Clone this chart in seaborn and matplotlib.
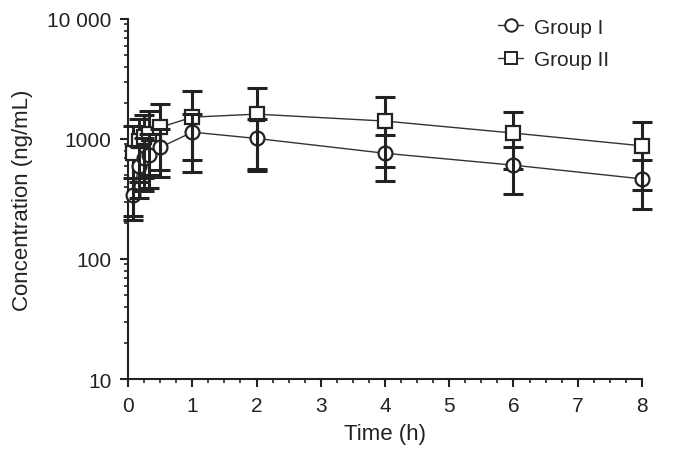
import numpy as np
import pandas as pd
import matplotlib
matplotlib.use("Agg")
import matplotlib.pyplot as plt
import matplotlib.ticker as mticker
import seaborn as sns

# Datos
tiempo = [0.083, 0.167, 0.25, 0.333, 0.5, 1, 2, 4, 6, 8]
grupo1_media = [340, 600, 690, 740, 850, 1140, 1010, 760, 605, 465]
grupo1_sd = [130, 280, 320, 350, 370, 475, 470, 315, 255, 205]
grupo2_media = [760, 960, 1030, 1100, 1250, 1520, 1610, 1410, 1120, 877]
grupo2_sd = [530, 520, 560, 600, 700, 990, 1045, 825, 555, 500]
etiquetas_y = ["10", "100", "1000", "10 000"]

df = pd.DataFrame({
    "Time": tiempo * 2,
    "Conc": grupo1_media + grupo2_media,
    "Group": ["Group I"] * len(tiempo) + ["Group II"] * len(tiempo),
})

sns.set_style("ticks")
plt.rcParams["font.family"] = ["Liberation Sans", "DejaVu Sans"]

fig = plt.figure(figsize=(7, 4.64), dpi=100)
ax = fig.add_axes([0.183, 0.181, 0.734, 0.776])

# Lineas
sns.lineplot(data=df, x="Time", y="Conc", hue="Group", palette=["#333333", "#333333"],
             linewidth=1.0, legend=False, ax=ax, zorder=2)

# Barras de error (SD)
ax.errorbar(tiempo, grupo2_media, yerr=grupo2_sd, fmt="none", ecolor="#222222",
            elinewidth=2.2, capsize=7, capthick=2.2, zorder=3, clip_on=False)
ax.plot(tiempo, grupo2_media, linestyle="none", marker="s", markersize=10,
        markerfacecolor="white", markeredgecolor="#222222", markeredgewidth=1.6,
        zorder=4, clip_on=False)
ax.plot(tiempo, grupo1_media, linestyle="none", marker="o", markersize=10,
        markerfacecolor="white", markeredgecolor="#222222", markeredgewidth=1.6,
        zorder=5, clip_on=False)
ax.errorbar(tiempo, grupo1_media, yerr=grupo1_sd, fmt="none", ecolor="#222222",
            elinewidth=2.2, capsize=7, capthick=2.2, zorder=6, clip_on=False)

ax.set_yscale("log")
ax.set_ylim(10, 10000)
ax.set_xlim(0, 8)
ax.set_yticks([10, 100, 1000, 10000])
ax.set_yticklabels(etiquetas_y)
ax.yaxis.set_minor_locator(mticker.LogLocator(base=10, subs=np.arange(2, 10)))
ax.yaxis.set_minor_formatter(mticker.NullFormatter())
ax.set_xticks(range(0, 9))
ax.xaxis.set_minor_locator(mticker.MultipleLocator(0.25))

ax.tick_params(which="major", length=6, width=1.5, labelsize=15, colors="#222222", pad=6)
ax.tick_params(which="minor", length=3, width=1.2, colors="#222222")
for s in ["left", "bottom"]:
    ax.spines[s].set_linewidth(1.5)
    ax.spines[s].set_color("#222222")
sns.despine(ax=ax)

ax.set_xlabel("Time (h)", fontsize=16, color="#222222", labelpad=6)
ax.set_ylabel("Concentration (ng/mL)", fontsize=16, color="#222222", labelpad=10)

# Leyenda
h1, = ax.plot([], [], color="#333333", linewidth=1.0, marker="o", markersize=9,
              markerfacecolor="white", markeredgecolor="#222222", markeredgewidth=1.4)
h2, = ax.plot([], [], color="#333333", linewidth=1.0, marker="s", markersize=9,
              markerfacecolor="white", markeredgecolor="#222222", markeredgewidth=1.4)
fig.legend([h1, h2], ["Group I", "Group II"], loc="upper left",
           bbox_to_anchor=(0.685, 1.0), frameon=False, fontsize=15,
           handlelength=1.2, handletextpad=0.5, labelspacing=0.65)

fig.savefig("out.png", dpi=100)
